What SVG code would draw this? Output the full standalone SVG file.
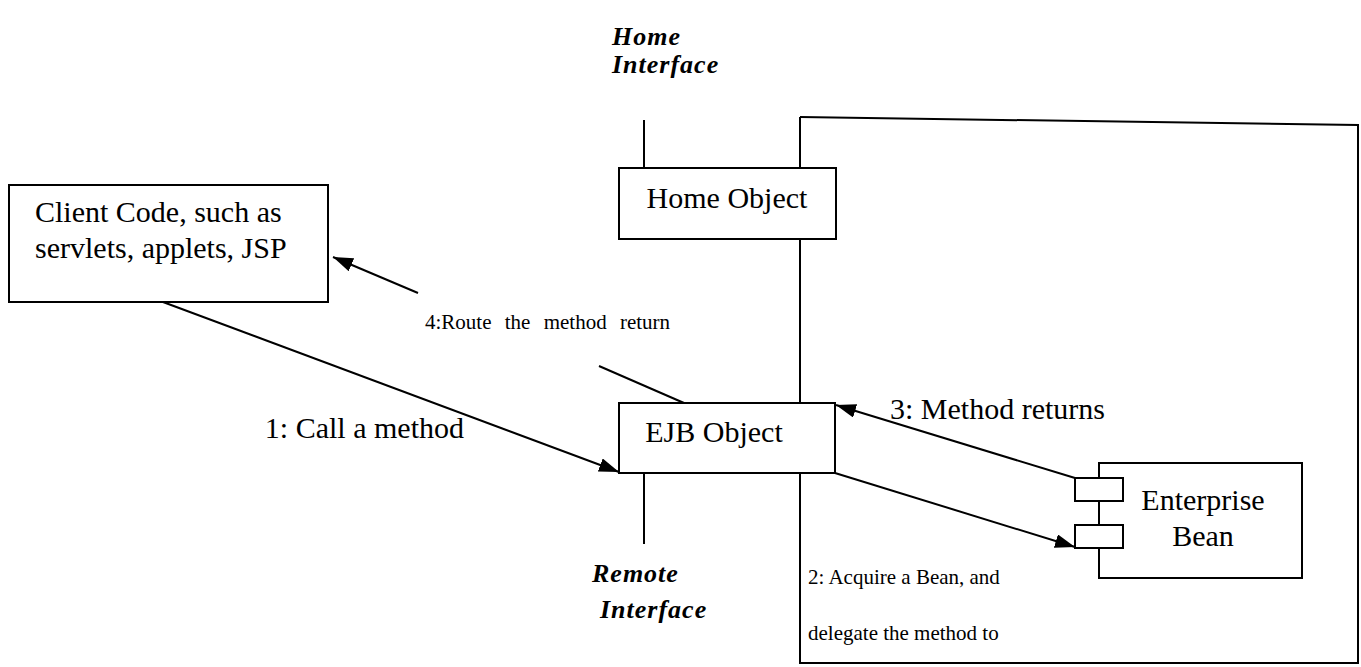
<svg xmlns="http://www.w3.org/2000/svg" width="1361" height="667" viewBox="0 0 1361 667">
  <style>
    .box { fill: #fff; stroke: #000; stroke-width: 2; }
    .line { fill: none; stroke: #000; stroke-width: 2; }
    .lbl { font-family: "Liberation Serif", serif; font-size: 30px; fill: #000; }
    .small { font-family: "Liberation Serif", serif; font-size: 21px; fill: #000; }
    .iface { font-family: "Liberation Serif", serif; font-size: 26px; font-weight: bold; font-style: italic; fill: #000; letter-spacing: 1px; }
  </style>
  <defs>
    <marker id="arrow" viewBox="0 0 20 14" refX="20" refY="7" markerWidth="20" markerHeight="14" markerUnits="userSpaceOnUse" orient="auto">
      <path d="M0,0 L20,7 L0,14 z" fill="#000"/>
    </marker>
  </defs>
  <rect width="1361" height="667" fill="#fff"/>

  <!-- container boundary -->
  <g id="container">
    <path class="line" d="M800,117 L1358,125 L1358,663 L800,663 L800,473"/>
    <line class="line" x1="800" y1="117" x2="800" y2="168"/>
    <line class="line" x1="800" y1="239" x2="800" y2="403"/>
  </g>

  <!-- interface stems and labels -->
  <g id="home-interface">
    <line class="line" x1="644" y1="120" x2="644" y2="168"/>
    <text class="iface" x="612" y="45">Home</text>
    <text class="iface" x="612" y="73">Interface</text>
  </g>
  <g id="remote-interface">
    <line class="line" x1="644" y1="473" x2="644" y2="544"/>
    <text class="iface" x="592" y="582">Remote</text>
    <text class="iface" x="600" y="618">Interface</text>
  </g>

  <g id="client">
    <rect class="box" x="9" y="185" width="319" height="117"/>
    <text class="lbl" x="35" y="222">Client Code, such as</text>
    <text class="lbl" x="35" y="258">servlets, applets, JSP</text>
  </g>

  <g id="home-object">
    <rect class="box" x="619" y="168" width="217" height="71"/>
    <text class="lbl" x="727" y="208" text-anchor="middle">Home Object</text>
  </g>

  <g id="ejb-object">
    <rect class="box" x="619" y="403" width="216" height="70"/>
    <text class="lbl" x="714" y="442" text-anchor="middle">EJB Object</text>
  </g>

  <g id="enterprise-bean">
    <rect class="box" x="1099" y="463" width="203" height="115"/>
    <rect class="box" x="1075" y="478" width="48" height="23"/>
    <rect class="box" x="1075" y="525" width="48" height="23"/>
    <text class="lbl" x="1203" y="510" text-anchor="middle">Enterprise</text>
    <text class="lbl" x="1203" y="546" text-anchor="middle">Bean</text>
  </g>

  <g id="connectors">
    <!-- 1: call -->
    <line class="line" x1="163" y1="302" x2="619" y2="472" marker-end="url(#arrow)"/>
    <!-- 2: delegate to bean -->
    <line class="line" x1="835" y1="473" x2="1075" y2="547" marker-end="url(#arrow)"/>
    <!-- 3: return from bean -->
    <line class="line" x1="1075" y1="478" x2="836" y2="405" marker-end="url(#arrow)"/>
    <!-- 4: route return to client (broken by its label) -->
    <line class="line" x1="684" y1="403" x2="599" y2="366"/>
    <line class="line" x1="418" y1="293" x2="333" y2="257" marker-end="url(#arrow)"/>
  </g>

  <g id="labels">
    <text class="small" x="425" y="329" word-spacing="8">4:Route the method return</text>
    <text class="lbl" x="464" y="438" text-anchor="end">1: Call a method</text>
    <text class="lbl" x="890" y="419">3: Method returns</text>
    <text class="small" x="808" y="584">2: Acquire a Bean, and</text>
    <text class="small" x="808" y="640">delegate the method to</text>
  </g>
</svg>
